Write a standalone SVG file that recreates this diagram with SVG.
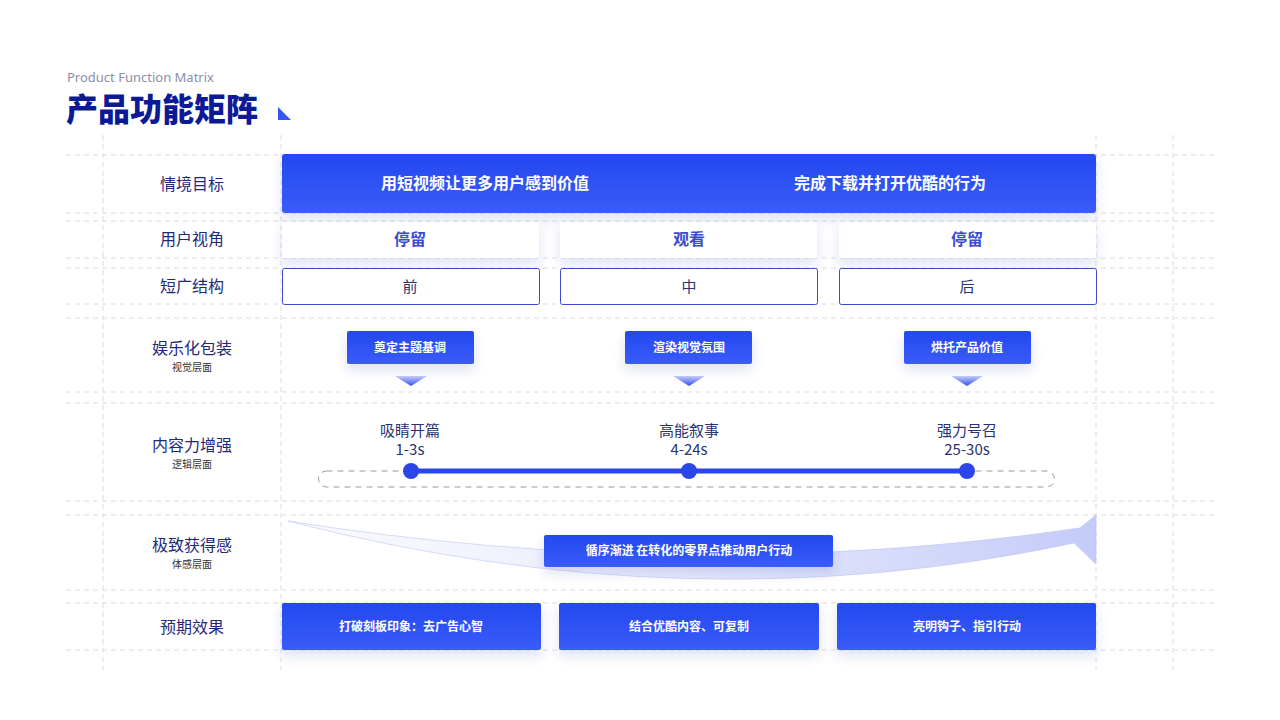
<svg xmlns="http://www.w3.org/2000/svg" width="1280" height="720" viewBox="0 0 1280 720">
<defs>
<linearGradient id="bg" x1="0" y1="0" x2="0" y2="1"><stop offset="0" stop-color="#2448f0"/><stop offset="1" stop-color="#3a5cf8"/></linearGradient>
<linearGradient id="tri" x1="0" y1="0" x2="0" y2="1"><stop offset="0" stop-color="#c5ccf8"/><stop offset="1" stop-color="#3350ee"/></linearGradient>
<linearGradient id="arc" x1="0" y1="0" x2="1" y2="0"><stop offset="0" stop-color="#e4e7fb" stop-opacity="0.2"/><stop offset="1" stop-color="#c4cbf8"/></linearGradient>
<filter id="sh" x="-20%" y="-50%" width="140%" height="220%"><feDropShadow dx="0" dy="6" stdDeviation="6" flood-color="#3040a0" flood-opacity="0.15"/></filter>
<style>
.g{stroke:#dcdce4;stroke-width:1;stroke-dasharray:5 4;fill:none}
.lab{font-family:"Noto Sans CJK SC","Noto Sans",sans-serif;font-size:16px;fill:#1f2a7a;text-anchor:middle}
.sub{font-family:"Noto Sans CJK SC",sans-serif;font-size:10px;fill:#333;text-anchor:middle}
.w{font-family:"Noto Sans CJK SC",sans-serif;font-weight:bold;fill:#fff;text-anchor:middle}
.b{font-family:"Noto Sans CJK SC",sans-serif;font-weight:bold;fill:#3a4bd0;text-anchor:middle;font-size:16px}
.t{font-family:"Noto Sans CJK SC",sans-serif;font-size:15px;fill:#2a3270;text-anchor:middle}
.box{fill:url(#bg)}
</style>
</defs>
<rect width="1280" height="720" fill="#fff"/>
<g id="grid">
<path class="g" d="M66 155H1214M66 213H1214M66 221H1214M66 258H1214M66 268H1214M66 304H1214M66 318H1214M66 392H1214M66 403H1214M66 501H1214M66 515H1214M66 590H1214M66 603H1214M66 650H1214"/>
<path class="g" d="M103 135V670M281 135V670M1096 135V670M1173 135V670"/>
</g>
<g id="title">
<text x="67" y="82" font-family="Noto Sans,sans-serif" font-size="13" fill="#8a8ea8">Product Function Matrix</text>
<text x="66" y="121" font-family="Noto Sans CJK SC,sans-serif" font-weight="900" font-size="32" fill="#0c1a96">产品功能矩阵</text>
<polygon points="278,107 278,120 291,120" fill="#3a56f0"/>
</g>
<g id="labels">
<text class="lab" x="192" y="190">情境目标</text>
<text class="lab" x="192" y="245">用户视角</text>
<text class="lab" x="192" y="292">短广结构</text>
<text class="lab" x="192" y="354">娱乐化包装</text><text class="sub" x="192" y="371">视觉层面</text>
<text class="lab" x="192" y="451">内容力增强</text><text class="sub" x="192" y="468">逻辑层面</text>
<text class="lab" x="192" y="551">极致获得感</text><text class="sub" x="192" y="568">体感层面</text>
<text class="lab" x="192" y="633">预期效果</text>
</g>
<g id="goal"><rect x="282" y="154" width="814" height="59" rx="3" class="box" filter="url(#sh)"/>
<text class="w" x="485" y="189" font-size="16">用短视频让更多用户感到价值</text>
<text class="w" x="890" y="189" font-size="16">完成下载并打开优酷的行为</text></g>
<g id="view">
<rect x="282" y="222" width="257" height="36" fill="#fff" filter="url(#sh)"/><text class="b" x="410" y="245">停留</text>
<rect x="560" y="222" width="257" height="36" fill="#fff" filter="url(#sh)"/><text class="b" x="689" y="245">观看</text>
<rect x="839" y="222" width="257" height="36" fill="#fff" filter="url(#sh)"/><text class="b" x="967" y="245">停留</text>
</g>
<g id="struct">
<rect x="282.5" y="268.5" width="257" height="36" rx="2" fill="#fff" stroke="#3a4bd0"/><text class="t" x="410" y="292">前</text>
<rect x="560.5" y="268.5" width="257" height="36" rx="2" fill="#fff" stroke="#3a4bd0"/><text class="t" x="689" y="292">中</text>
<rect x="839.5" y="268.5" width="257" height="36" rx="2" fill="#fff" stroke="#3a4bd0"/><text class="t" x="967" y="292">后</text>
</g>
<g id="pack">
<rect x="347" y="331" width="127" height="33" rx="2" class="box" filter="url(#sh)"/><text class="w" x="410" y="352" font-size="12">奠定主题基调</text>
<rect x="625" y="331" width="127" height="33" rx="2" class="box" filter="url(#sh)"/><text class="w" x="689" y="352" font-size="12">渲染视觉氛围</text>
<rect x="904" y="331" width="127" height="33" rx="2" class="box" filter="url(#sh)"/><text class="w" x="967" y="352" font-size="12">烘托产品价值</text>
<polygon points="395,376 427,376 411,386" fill="url(#tri)"/>
<polygon points="673,376 705,376 689,386" fill="url(#tri)"/>
<polygon points="951,376 983,376 967,386" fill="url(#tri)"/>
</g>
<g id="timeline">
<rect x="318.5" y="471" width="736" height="16" rx="8" fill="none" stroke="#999" stroke-dasharray="6 5"/>
<line x1="411" y1="471" x2="967" y2="471" stroke="#2a46e8" stroke-width="5"/>
<circle cx="411" cy="471" r="8" fill="#2a46e8"/><circle cx="689" cy="471" r="8" fill="#2a46e8"/><circle cx="967" cy="471" r="8" fill="#2a46e8"/>
<text class="t" x="410" y="436">吸睛开篇</text><text class="t" x="410" y="455">1-3s</text>
<text class="t" x="689" y="436">高能叙事</text><text class="t" x="689" y="455">4-24s</text>
<text class="t" x="967" y="436">强力号召</text><text class="t" x="967" y="455">25-30s</text>
</g>
<g id="gain">
<path d="M288 521 Q690 625 1074 543 L1096 564 L1096 515 L1080 528 Q690 585 288 521 Z" fill="url(#arc)" stroke="#b8c0f4" stroke-width="0.8" stroke-opacity="0.7"/>
<rect x="544" y="535" width="289" height="32" rx="2" class="box" filter="url(#sh)"/>
<text class="w" x="689" y="555" font-size="12">循序渐进 在转化的零界点推动用户行动</text>
</g>
<g id="effect">
<rect x="282" y="603" width="259" height="47" rx="2" class="box" filter="url(#sh)"/><text class="w" x="411" y="631" font-size="12">打破刻板印象：去广告心智</text>
<rect x="559" y="603" width="260" height="47" rx="2" class="box" filter="url(#sh)"/><text class="w" x="689" y="631" font-size="12">结合优酷内容、可复制</text>
<rect x="837" y="603" width="259" height="47" rx="2" class="box" filter="url(#sh)"/><text class="w" x="967" y="631" font-size="12">亮明钩子、指引行动</text>
</g>
</svg>
